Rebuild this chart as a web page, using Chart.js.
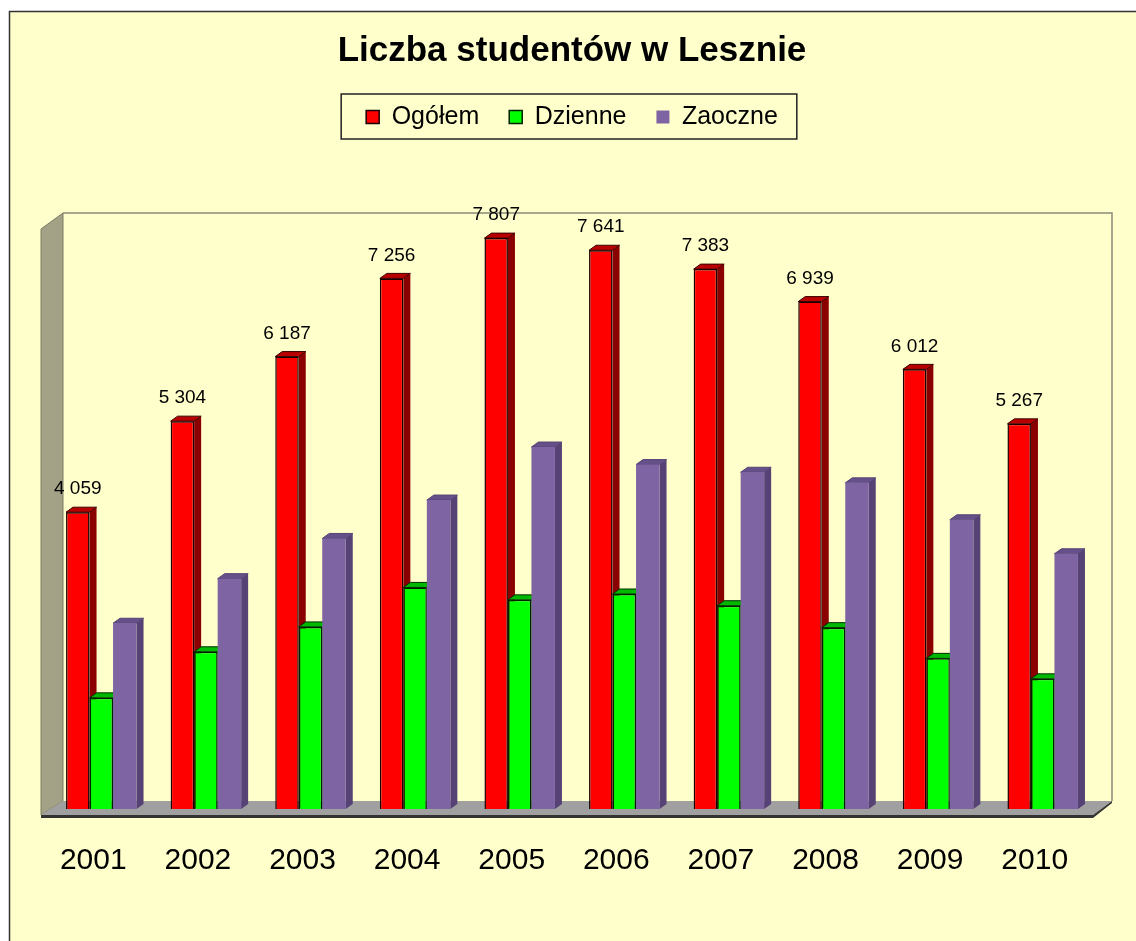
<!DOCTYPE html>
<html>
<head>
<meta charset="utf-8">
<title>Liczba studentów w Lesznie</title>
<script src="https://cdn.jsdelivr.net/npm/chart.js@4.4.1/dist/chart.umd.min.js"></script>
<style>
  html, body { margin: 0; padding: 0; background: #fff; }
</style>
</head>
<body>
<canvas id="studentsChart" width="1136" height="941"></canvas>
<script>
const years = ["2001", "2002", "2003", "2004", "2005", "2006", "2007", "2008", "2009", "2010"];
const ogolem = [4059, 5304, 6187, 7256, 7807, 7641, 7383, 6939, 6012, 5267];
const dzienne = [1520, 2150, 2490, 3030, 2860, 2940, 2780, 2480, 2060, 1780];
const zaoczne = [2540, 3150, 3700, 4225, 4950, 4710, 4605, 4460, 3955, 3490];

const FONT = "'Liberation Sans', Arial, sans-serif";
const DX = 7; // glebokosc slupka w poziomie
const DY = 5; // i w pionie

// kolory boku i gory slupkow (pseudo 3D)
const faces = [
  { side: "#8a0000", top: "#b80000", line: "#3a0000" },
  { side: "#009000", top: "#00b800", line: "#003000" },
  { side: "#564275", top: "#65508a", line: "#564275" },
];

function formatPl(v) {
  return String(v).replace(/\B(?=(\d{3})+(?!\d))/g, " ");
}

function poly(c, pts) {
  c.beginPath();
  c.moveTo(pts[0][0], pts[0][1]);
  for (let i = 1; i < pts.length; i++) c.lineTo(pts[i][0], pts[i][1]);
  c.closePath();
}

const pageBackground = {
  id: "pageBackground",
  beforeDraw(chart) {
    const c = chart.ctx;
    c.save();
    c.fillStyle = "#ffffff";
    c.fillRect(0, 0, chart.width, chart.height);
    c.fillStyle = "#ffffcc";
    c.fillRect(9, 11, chart.width, chart.height);
    c.strokeStyle = "#333333";
    c.lineWidth = 1.5;
    c.strokeRect(9.5, 11.5, chart.width + 20, chart.height + 20);
    c.restore();
  },
};

// legenda zajmuje miejsce az do gory obszaru wykresu
const legendSpace = {
  id: "legendSpace",
  beforeInit(chart) {
    const fit = chart.legend.fit;
    chart.legend.fit = function () {
      fit.call(this);
      this.height = 149.5;
    };
  },
};

const legendFrame = {
  id: "legendFrame",
  afterDraw(chart) {
    const boxes = chart.legend.legendHitBoxes;
    if (!boxes || !boxes.length) return;
    const first = boxes[0];
    const last = boxes[boxes.length - 1];
    const cy = first.top + first.height / 2;
    const c = chart.ctx;
    c.save();
    c.strokeStyle = "#222";
    c.lineWidth = 1.5;
    c.strokeRect(first.left - 25, cy - 23, last.left + last.width + 44 - first.left, 45);
    c.restore();
  },
};

const walls3d = {
  id: "walls3d",
  beforeDatasetsDraw(chart) {
    const c = chart.ctx;
    const a = chart.chartArea;
    c.save();
    // tylna sciana
    c.fillStyle = "#ffffcc";
    c.fillRect(a.left + 14, a.top - 11, a.right - a.left + 3, a.bottom - a.top + 3);
    c.strokeStyle = "#8a8a7a";
    c.lineWidth = 1.5;
    c.beginPath();
    c.moveTo(a.left + 14, a.top - 11);
    c.lineTo(a.right + 17, a.top - 11);
    c.lineTo(a.right + 17, a.bottom - 8);
    c.stroke();
    // lewa sciana
    c.fillStyle = "#a3a286";
    poly(c, [[a.left - 8, a.top + 5], [a.left + 14, a.top - 11], [a.left + 14, a.bottom - 8], [a.left - 8, a.bottom + 6]]);
    c.fill();
    c.strokeStyle = "#7d7c66";
    c.lineWidth = 1;
    c.stroke();
    // podloga
    c.fillStyle = "#a0a0a0";
    poly(c, [[a.left - 8, a.bottom + 6], [a.left + 14, a.bottom - 8], [a.right + 17, a.bottom - 8], [a.right - 2, a.bottom + 6]]);
    c.fill();
    c.fillStyle = "#333333";
    poly(c, [[a.left - 8, a.bottom + 6], [a.right - 2, a.bottom + 6], [a.right + 17, a.bottom - 8], [a.right + 17, a.bottom - 6], [a.right - 2, a.bottom + 9], [a.left - 8, a.bottom + 9]]);
    c.fill();

    // boki i gory slupkow
    chart.data.datasets.forEach((ds, i) => {
      const meta = chart.getDatasetMeta(i);
      const f = faces[i];
      meta.data.forEach((bar) => {
        const p = bar.getProps(["x", "y", "base", "width"], true);
        const l = p.x - p.width / 2;
        const r = p.x + p.width / 2;
        c.fillStyle = f.side;
        poly(c, [[r, p.y], [r + DX, p.y - DY], [r + DX, p.base - DY], [r, p.base]]);
        c.fill();
        c.fillStyle = f.top;
        poly(c, [[l, p.y], [l + DX, p.y - DY], [r + DX, p.y - DY], [r, p.y]]);
        c.fill();
        c.strokeStyle = f.line;
        c.lineWidth = 1;
        c.stroke();
      });
    });
    c.restore();
  },
};

const valueLabels = {
  id: "valueLabels",
  afterDatasetsDraw(chart) {
    const c = chart.ctx;
    const meta = chart.getDatasetMeta(0);
    c.save();
    c.fillStyle = "#000";
    c.font = "19px " + FONT;
    c.textAlign = "center";
    c.textBaseline = "middle";
    meta.data.forEach((bar, i) => {
      c.fillText(formatPl(ogolem[i]), bar.x, bar.y - 23);
    });
    c.restore();
  },
};

const ctx = document.getElementById("studentsChart").getContext("2d");
const studentsChart = new Chart(ctx, {
  type: "bar",
  data: {
    labels: years,
    datasets: [
      {
        label: "Ogółem",
        data: ogolem,
        backgroundColor: "#ff0000",
        borderColor: "#1a0000",
        borderWidth: 1.5,
      },
      {
        label: "Dzienne",
        data: dzienne,
        backgroundColor: "#00ff00",
        borderColor: "#002000",
        borderWidth: 1.5,
      },
      {
        label: "Zaoczne",
        data: zaoczne,
        backgroundColor: "#7f64a3",
        borderWidth: 0,
      },
    ],
  },
  options: {
    responsive: false,
    animation: false,
    layout: {
      padding: { left: 49, right: 41, top: 0, bottom: 28 },
    },
    datasets: {
      bar: { categoryPercentage: 0.674, barPercentage: 1 },
    },
    plugins: {
      title: {
        display: true,
        text: "Liczba studentów w Lesznie",
        color: "#000",
        font: { family: FONT, size: 35, weight: "bold" },
        padding: { top: 30, bottom: 2.5 },
      },
      legend: {
        display: true,
        position: "top",
        labels: {
          color: "#000",
          font: { family: FONT, size: 25 },
          boxWidth: 13,
          boxHeight: 13,
          padding: 30,
        },
      },
      tooltip: { enabled: false },
    },
    scales: {
      x: {
        grid: { display: false, drawTicks: false },
        border: { display: false },
        ticks: {
          color: "#000",
          font: { family: FONT, size: 30 },
          padding: 34,
          labelOffset: -8,
        },
      },
      y: {
        display: false,
        min: 0,
        max: 8000,
      },
    },
  },
  plugins: [pageBackground, legendSpace, legendFrame, walls3d, valueLabels],
});
</script>
</body>
</html>
